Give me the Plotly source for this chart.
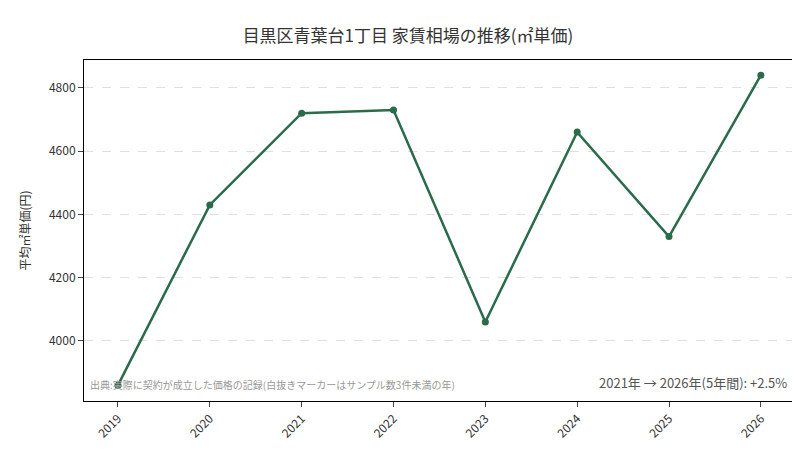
import plotly.graph_objs as go

years = ["2019", "2020", "2021", "2022", "2023", "2024", "2025", "2026"]
price = [3860, 4430, 4720, 4730, 4060, 4660, 4330, 4840]
yticks = [4000, 4200, 4400, 4600, 4800]

font = "Noto Sans CJK JP"
green = "#2a6b4b"

fig = go.Figure()
fig.add_trace(go.Scatter(x=years, y=price, mode="lines+markers",
                         line=dict(color=green, width=2.5),
                         marker=dict(color=green, size=7)))

fig.update_layout(
    width=800, height=450,
    title=dict(text="目黒区青葉台1丁目 家賃相場の推移(㎡単価)", x=0.5, y=0.95,
               font=dict(size=17, color="#333")),
    font=dict(family=font, size=12, color="#333"),
    plot_bgcolor="white", paper_bgcolor="white",
    margin=dict(l=76, r=15, t=52, b=57, autoexpand=False),
    showlegend=False,
    xaxis=dict(type="category", tickangle=-45, showline=True, linecolor="black",
               mirror=True, ticks="outside", showgrid=False, automargin=False,
               range=[-0.37, 7.35]),
    yaxis=dict(title=dict(text="平均㎡単価(円)", font=dict(size=12)),
               range=[3810, 4888], tickvals=yticks, showline=True,
               linecolor="black", mirror=True, ticks="outside", automargin=False,
               gridcolor="#e0e0e0", griddash="dash"),
)
fig.add_annotation(text="出典:実際に契約が成立した価格の記録(白抜きマーカーはサンプル数3件未満の年)",
                   xref="paper", yref="paper", x=0.005, y=0.02,
                   xanchor="left", yanchor="bottom", showarrow=False,
                   font=dict(size=10, color="#999"))
fig.add_annotation(text="2021年 → 2026年(5年間): +2.5%",
                   xref="paper", yref="paper", x=0.995, y=0.02,
                   xanchor="right", yanchor="bottom", showarrow=False,
                   font=dict(size=13, color="#555"))

fig.write_html("out.html")
